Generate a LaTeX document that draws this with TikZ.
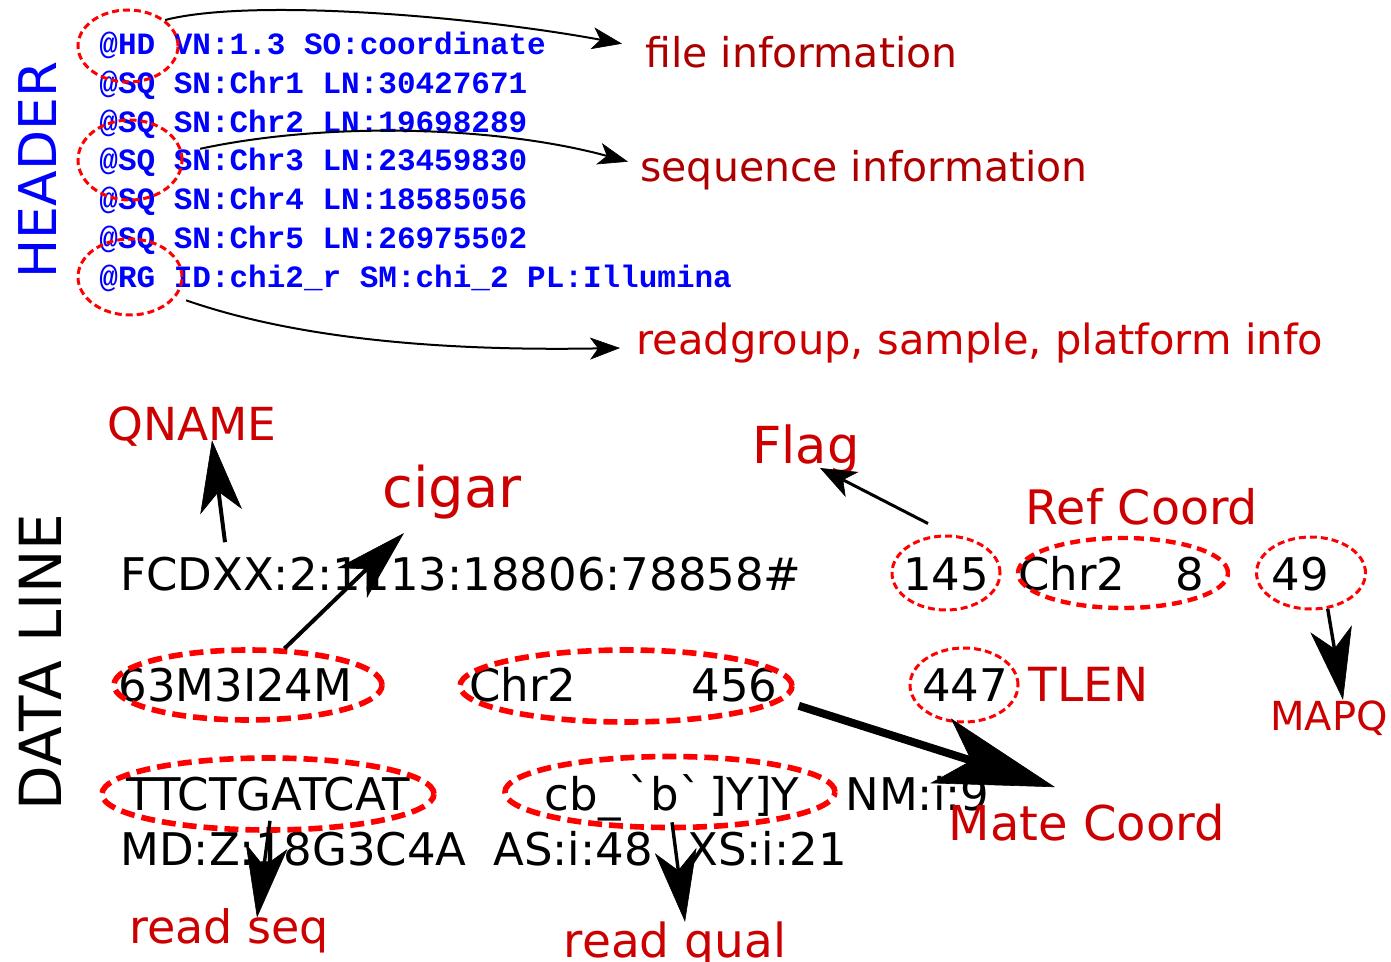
\documentclass[tikz,border=0pt]{standalone}
\usepackage{fontspec}
\setmainfont{DejaVu Sans}
\newfontfamily\hdrmono{Liberation Mono}
\usetikzlibrary{arrows.meta,shapes.geometric,positioning}
\definecolor{labred}{RGB}{204,0,0}
\definecolor{labdark}{RGB}{172,0,0}
\newcommand{\setfs}[1]{\fontsize{#1}{#1}\selectfont}

\tikzset{
  hdline/.style={font=\hdrmono\bfseries\setfs{15.5}, text=blue, anchor=base west, inner sep=0pt},
  dline/.style={font=\setfs{22.5}, anchor=base west, inner sep=0pt},
  lab/.style={text=labred, inner sep=0pt},
  dotring/.style={ellipse, draw=red, inner sep=0pt, line width=1.5pt, dash pattern=on 3.5pt off 2pt},
  fatring/.style={ellipse, draw=red, inner sep=0pt, line width=2.8pt, dash pattern=on 7pt off 3.5pt},
  hdarrow/.style={-{Stealth[length=15pt,width=11pt,inset=4pt,line width=0.3pt]}, line width=1pt},
  bigarrow/.style={-{Stealth[length=36pt,width=21pt,inset=10pt,line width=0.3pt]}, line width=2pt},
  midarrow/.style={-{Stealth[length=36pt,width=21pt,inset=10pt,line width=0.3pt]}, line width=1.7pt},
  flagarrow/.style={-{Stealth[length=18pt,width=14pt,inset=5pt,line width=0.3pt]}, line width=1.5pt},
  fatarrow/.style={-{Stealth[length=60pt,width=34pt,inset=16pt,line width=0.3pt]}, line width=4pt}
}

\begin{document}
\begin{tikzpicture}[x=0.5pt,y=-0.5pt]
  \useasboundingbox (0,0) rectangle (1391,962);

  \node[rotate=90, text=blue, font=\setfs{26}] (hdrtag) at (38,170) {HEADER};
  \node[hdline] (hdl) at (99,55) {@HD VN:1.3 SO:coordinate};
  \node[hdline] (sq1) at (99,94) {@SQ SN:Chr1 LN:30427671};
  \node[hdline] (sq2) at (99,133) {@SQ SN:Chr2 LN:19698289};
  \node[hdline] (sq3) at (99,171) {@SQ SN:Chr3 LN:23459830};
  \node[hdline] (sq4) at (99,210) {@SQ SN:Chr4 LN:18585056};
  \node[hdline] (sq5) at (99,249) {@SQ SN:Chr5 LN:26975502};
  \node[hdline] (rgl) at (99,288) {@RG ID:chi2\_r SM:chi\_2 PL:Illumina};

  \node[dotring, minimum width=50pt, minimum height=36pt] (hdring) at (128,46) {};
  \node[dotring, minimum width=52pt, minimum height=40pt] (sqring) at (130,160) {};
  \node[dotring, minimum width=52pt, minimum height=38pt] (rgring) at (130,277) {};

  \node[lab, text=labdark, font=\setfs{20.5}, anchor=base west] (fileinfo) at (645,68) {file information};
  \node[lab, text=labdark, font=\setfs{20.5}, anchor=base west] (seqinfo) at (640,182) {sequence information};
  \node[lab, font=\setfs{20.8}, anchor=base west] (rginfo) at (636,355) {readgroup, sample, platform info};

  \draw[hdarrow] (hdring.35) .. controls +(85,-22) and +(-152,-28) .. ([shift={(-23,-9)}]fileinfo.west);
  \draw[hdarrow] ([shift={(18,-2)}]sqring.10) .. controls +(130,-28) and +(-128,-35) .. ([shift={(-12,-9)}]seqinfo.west);
  \draw[hdarrow] ([shift={(14,-1)}]rgring.-30) .. controls +(115,40) and +(-170,3) .. ([shift={(-16,4.5)}]rginfo.west);

  \node[rotate=90, font=\setfs{29}] (datatag) at (40,662) {DATA LINE};

  \node[dline] (qnametxt) at (120,590) {FCDXX:2:1113:18806:78858\#};
  \node[dline, anchor=base] (flagtxt) at (946,590) {145};
  \node[dline] (refchr) at (1018,590) {Chr2};
  \node[dline] (refpos) at (1175,590) {8};
  \node[dline, anchor=base] (mapqtxt) at (1300,590) {49};

  \node[dline] (cigtxt) at (118,701) {63M3I24M};
  \node[dline] (matechr) at (469,701) {Chr2};
  \node[dline, anchor=base east] (matepos) at (778,701) {456};
  \node[dline, anchor=base] (tlentxt) at (965,701) {447};

  \node[dline] (seqtxt) at (126,810) {TTCTGATCAT};
  \node[dline, anchor=base] (qualtxt) at (672,810) {cb\_\,\textasciigrave b\textasciigrave\,]Y]Y};
  \node[dline] (nmtag) at (845,810) {NM:i:9};

  \node[dline] (mdtag) at (120,865) {MD:Z:18G3C4A};
  \node[dline] (astag) at (493,865) {AS:i:48};
  \node[dline] (xstag) at (687,865) {XS:i:21};

  \node[dotring, minimum width=54pt, minimum height=37pt] (flagring) at (946,573) {};
  \node[fatring, line width=2.2pt, dash pattern=on 5pt off 3pt, minimum width=105pt, minimum height=35pt] (refring) at (1123,573) {};
  \node[dotring, minimum width=54.5pt, minimum height=36pt] (mapqring) at (1311,573) {};
  \node[fatring, minimum width=134pt, minimum height=35pt] (cigring) at (248,685) {};
  \node[fatring, minimum width=166pt, minimum height=36pt] (matering) at (626,686) {};
  \node[dotring, minimum width=54pt, minimum height=37pt] (tlenring) at (964,685) {};
  \node[fatring, minimum width=166pt, minimum height=36pt] (seqring) at (268,794) {};
  \node[fatring, minimum width=165pt, minimum height=35.5pt] (qualring) at (670,792) {};

  \node[lab, font=\setfs{22.75}, anchor=base] (qname) at (192,440) {QNAME};
  \node[lab, font=\setfs{28}, anchor=base] (cigar) at (452,507) {cigar};
  \node[lab, font=\setfs{25.5}, anchor=base] (flag) at (806,463) {Flag};
  \node[lab, font=\setfs{23.75}, anchor=base] (refcoord) at (1142,524) {Ref Coord};
  \node[lab, font=\setfs{23.5}, anchor=base west] (tlen) at (1028,701) {TLEN};
  \node[lab, font=\setfs{20}, anchor=base] (mapq) at (1329,730) {MAPQ};
  \node[lab, font=\setfs{24}, anchor=base] (matecoord) at (1087,840) {Mate Coord};
  \node[lab, font=\setfs{23}, anchor=base] (readseq) at (229,943) {read seq};
  \node[lab, font=\setfs{23.5}, anchor=base] (readqual) at (675,957) {read qual};

  \draw[bigarrow] ([shift={(105,-14)}]qnametxt.north west) -- ([shift={(20,-6)}]qname.south);
  \draw[bigarrow] (cigring.45) -- ([shift={(22,14)}]cigar.south west);
  \draw[flagarrow] ([shift={(-18,-11)}]flagring.north) -- ([shift={(14,-6)}]flag.south);
  \draw[midarrow] (mapqring.-65) -- ([shift={(14,0)}]mapq.north);
  \draw[fatarrow] ([shift={(15,6)}]matering.-5) -- ([shift={(-32,-16)}]matecoord.north);
  \draw[midarrow] ([shift={(2,-12)}]seqring.south) -- ([shift={(28,10)}]readseq.north);
  \draw[midarrow] ([shift={(2,-8)}]qualring.south) -- ([shift={(10,1)}]readqual.north);
\end{tikzpicture}
\end{document}
